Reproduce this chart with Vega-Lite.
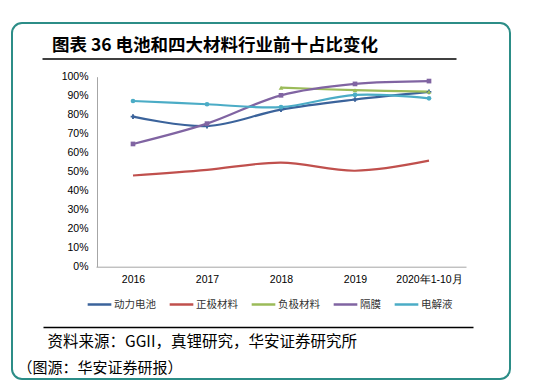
{
  "$schema": "https://vega.github.io/schema/vega-lite/v6.json",
  "autosize": "none",
  "width": 498,
  "height": 356,
  "padding": {"left": 12, "top": 23, "right": 33, "bottom": 8},
  "background": "white",
  "title": {
    "text": "图表 36 电池和四大材料行业前十占比变化",
    "anchor": "start",
    "frame": "group",
    "dx": 40,
    "offset": -31,
    "font": "Noto Sans CJK SC",
    "fontSize": 17.5,
    "fontWeight": "bold",
    "color": "#000000"
  },
  "data": {
    "values": [
      {"year": "2016", "series": "动力电池", "value": 79},
      {"year": "2017", "series": "动力电池", "value": 74},
      {"year": "2018", "series": "动力电池", "value": 82.7},
      {"year": "2019", "series": "动力电池", "value": 88},
      {"year": "2020年1-10月", "series": "动力电池", "value": 92},
      {"year": "2016", "series": "正极材料", "value": 48},
      {"year": "2017", "series": "正极材料", "value": 51},
      {"year": "2018", "series": "正极材料", "value": 54.8},
      {"year": "2019", "series": "正极材料", "value": 50.5},
      {"year": "2020年1-10月", "series": "正极材料", "value": 55.8},
      {"year": "2018", "series": "负极材料", "value": 94.2},
      {"year": "2019", "series": "负极材料", "value": 92.9},
      {"year": "2020年1-10月", "series": "负极材料", "value": 92.1},
      {"year": "2016", "series": "隔膜", "value": 64.6},
      {"year": "2017", "series": "隔膜", "value": 75.3},
      {"year": "2018", "series": "隔膜", "value": 90.2},
      {"year": "2019", "series": "隔膜", "value": 96.2},
      {"year": "2020年1-10月", "series": "隔膜", "value": 97.7},
      {"year": "2016", "series": "电解液", "value": 87.2},
      {"year": "2017", "series": "电解液", "value": 85.5},
      {"year": "2018", "series": "电解液", "value": 84},
      {"year": "2019", "series": "电解液", "value": 90.4},
      {"year": "2020年1-10月", "series": "电解液", "value": 88.6}
    ]
  },
  "resolve": {"scale": {"x": "independent"}, "axis": {"x": "independent"}},
  "layer": [
    {
      "encoding": {
        "x": {
          "field": "year",
          "type": "ordinal",
          "sort": null,
          "scale": {"type": "point", "range": [84, 454], "padding": 0.5},
          "axis": {
            "orient": "bottom",
            "offset": -112.3,
            "labelAngle": 0,
            "labelPadding": 8,
            "labelFont": "Liberation Sans",
            "labelFontSize": 10.5,
            "labelColor": "#000000",
            "ticks": false,
            "domainColor": "#a6a6a6",
            "domainWidth": 1,
            "grid": false,
            "title": "（图源：华安证券研报）",
            "titleX": 5,
            "titleY": 101,
            "titleAlign": "left",
            "titleBaseline": "middle",
            "titleFont": "Noto Sans CJK SC",
            "titleFontSize": 15,
            "titleFontWeight": "normal",
            "titleColor": "#000000"
          }
        },
        "y": {
          "field": "value",
          "type": "quantitative",
          "scale": {"domain": [0, 100], "range": [243.7, 53.7], "nice": false},
          "axis": {
            "orient": "left",
            "offset": -85,
            "values": [0, 10, 20, 30, 40, 50, 60, 70, 80, 90, 100],
            "labelExpr": "datum.value + '%'",
            "labelFont": "Liberation Sans",
            "labelFontSize": 10.5,
            "labelColor": "#000000",
            "labelPadding": 9,
            "ticks": false,
            "grid": false,
            "domainColor": "#a6a6a6",
            "title": null
          }
        },
        "color": {
          "field": "series",
          "type": "nominal",
          "scale": {
            "domain": ["动力电池", "正极材料", "负极材料", "隔膜", "电解液"],
            "range": ["#3B639B", "#C0504D", "#9BBB59", "#8064A2", "#4BACC6"]
          },
          "legend": {
            "orient": "none",
            "legendX": 74,
            "legendY": 268,
            "direction": "horizontal",
            "gridAlign": "none",
            "title": null,
            "symbolType": "stroke",
            "symbolSize": 560,
            "symbolStrokeWidth": 2.5,
            "labelFont": "Noto Sans CJK SC",
            "labelFontSize": 10.5,
            "labelColor": "#333333",
            "labelOffset": 1,
            "columnPadding": 8
          }
        }
      },
      "layer": [
        {
          "mark": {"type": "line", "interpolate": "catmull-rom", "strokeWidth": 2.2}
        },
        {
          "transform": [{"filter": "datum.series !== '正极材料'"}],
          "mark": {"type": "point", "filled": true, "opacity": 1},
          "encoding": {
            "shape": {
              "field": "series",
              "type": "nominal",
              "scale": {
                "domain": ["动力电池", "负极材料", "隔膜", "电解液"],
                "range": ["cross", "triangle-up", "square", "circle"]
              },
              "legend": null
            },
            "size": {"value": 22}
          }
        }
      ]
    },
    {
      "mark": {"type": "point", "opacity": 0},
      "encoding": {
        "x": {
          "field": "year",
          "type": "ordinal",
          "sort": null,
          "scale": {"type": "point", "range": [30, 444], "padding": 0.5},
          "axis": {
            "orient": "top",
            "offset": -35.5,
            "labels": false,
            "ticks": false,
            "grid": false,
            "domainColor": "#000000",
            "domainWidth": 1.3,
            "title": null
          }
        }
      }
    },
    {
      "mark": {"type": "point", "opacity": 0},
      "encoding": {
        "x": {
          "field": "year",
          "type": "ordinal",
          "sort": null,
          "scale": {"type": "point", "range": [31, 461], "padding": 0.5},
          "axis": {
            "orient": "bottom",
            "offset": -52,
            "labels": false,
            "ticks": false,
            "grid": false,
            "domainColor": "#000000",
            "domainWidth": 1.3,
            "title": "资料来源：GGII，真锂研究，华安证券研究所",
            "titleX": 35,
            "titleY": 14,
            "titleAlign": "left",
            "titleBaseline": "middle",
            "titleFont": "Noto Sans CJK SC",
            "titleFontSize": 15.5,
            "titleFontWeight": "normal",
            "titleColor": "#000000"
          }
        }
      }
    }
  ],
  "config": {
    "view": {"stroke": "#2C8D87", "strokeWidth": 2, "cornerRadius": 10},
    "font": "Liberation Sans"
  }
}
